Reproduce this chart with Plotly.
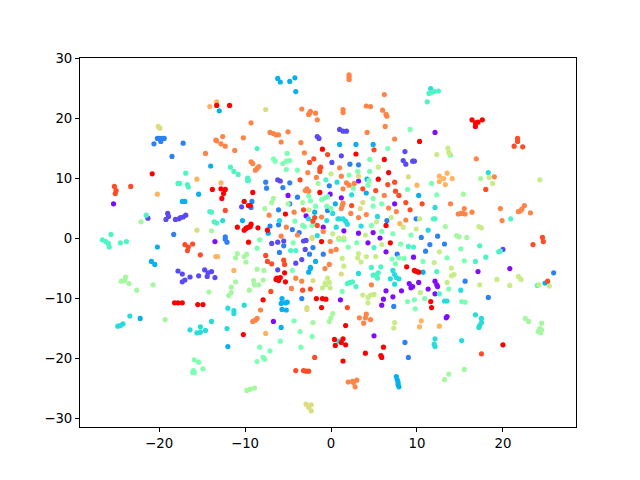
import plotly.graph_objects as go

red = [(-13.3,22.1),(-11.8,22.1),(-20.8,10.7),(-13.8,8.1),(-12.8,8.2),(-12.3,8.1),(-12.5,7.4),(-12.7,6.6),(-10.1,6.1),(-9.6,5.4),(-10.9,1.8),(-10.1,1.3),(-9.6,1.8),(-9.9,1.6),
 (-1.0,14.8),(2.9,14.0),(6.2,13.1),(6.7,10.9),(-1.3,7.6),(-9.1,7.6),(-9.4,5.4),(-5.3,4.0),(-9.8,1.7),(-9.4,1.9),(-9.3,2.3),(-8.5,1.7),(-7.4,1.3),(6.4,2.1),(5.5,9.8),
 (16.4,19.7),(16.8,19.2),(16.8,18.6),(17.1,19.3),(17.6,19.7),(10.3,16.1),
 (-18.2,-10.8),(-17.8,-10.8),(-17.3,-10.8),(-15.5,-11.1),(-14.9,-11.1),(-10.2,-16.1),(-9.6,-0.7),
 (-5.4,-5.8),(-6.3,-6.7),(-6.1,-7.1),(-5.9,-6.6),(-6.4,-6.9),(-5.3,-7.3),(-7.9,-10.3),(-1.7,-10.1),(-1.0,-10.1),(-0.6,-10.2),(-1.1,-11.6),(1.7,-14.6),(0.4,-16.9),(0.5,-17.9),(1.4,-16.8),(1.2,-17.4),(1.7,-17.8),(4.0,-19.2),(5.8,-19.6),(5.9,-19.9),(6.1,-18.2),(1.4,-20.5),(8.8,-4.8),(6.9,-0.8),(-1.1,-0.6),(9.7,-5.4),
 (9.8,-5.5),(10.0,-5.6),(10.2,-5.7),(11.6,-10.6),(11.7,-11.6),(20.0,-17.8)]
red_orange = [(-25.2,8.6),(-25.0,7.9),(-25.1,7.4),(-23.3,8.6),(-12.3,4.6),
 (-0.4,13.9),(-2.0,13.2),(-2.5,12.6),(5.0,14.7),(-3.6,9.7),(-1.3,11.6),(-1.2,11.8),(-1.3,11.1),(6.6,8.9),(7.4,9.3),(5.2,7.9),(3.7,8.2),(7.5,7.8),(7.9,7.1),(8.7,5.9),(9.2,4.7),(2.4,5.4),(-1.6,2.1),(-2.1,2.8),(-1.9,3.4),(-3.2,4.7),
 (21.7,16.6),(21.7,16.1),(21.3,15.3),(22.3,15.2),(18.0,8.1),(10.6,5.7),(24.6,0.1),(24.7,-0.6),(23.5,-1.1),
 (-17.0,-1.1),(-16.1,-1.0),(-16.6,-1.5),(-16.7,-2.1),(-15.2,-2.8),
 (-7.6,-2.9),(-7.4,-3.9),(-6.9,-4.3),(-5.5,-3.7),(-5.4,-4.4),(-7.0,-8.9),(-3.3,-8.7),(-2.4,-8.5),(1.9,-11.6),(-1.9,-19.9),(-4.1,-22.1),(-3.2,-22.1),(-2.6,-22.2),(-2.9,-22.2),
 (17.5,-19.3),(25.2,-7.2)]
orange = [(-12.6,16.9),(-13.4,16.3),(-13.3,16.2),(-12.8,15.7),(-12.3,15.3),(-10.2,16.7),(-11.2,14.6),(-14.6,14.1),(-9.3,19.2),(-9.3,12.7),(-9.1,12.4),
 (2.1,27.2),(2.1,26.8),(2.1,26.4),(6.2,23.9),(-3.4,21.5),(-2.4,21.1),(-2.6,20.6),(-2.5,20.8),(-1.8,20.8),(-1.6,19.7),(1.4,21.4),(1.4,20.9),(4.1,22.0),(4.6,21.9),(6.0,21.3),(6.4,20.6),(6.5,20.3),(6.3,18.6),(4.2,17.6),(7.4,16.5),
 (-7.1,17.6),(-6.7,17.4),(-6.4,17.2),(-6.1,17.2),(-5.0,17.7),(-5.8,16.0),(-3.5,15.9),(-3.1,14.2),(-8.4,11.9),(-8.8,11.3),(-8.6,11.6),
 (-2.7,10.9),(-1.7,10.1),(1.0,11.7),(1.2,10.3),(1.4,8.2),(1.8,9.2),(2.1,8.8),(2.7,9.1),(-2.8,8.2),(-3.0,7.9),(-2.6,7.8),(6.2,7.1),(1.4,5.8),(1.3,5.4),(1.2,4.9),(6.7,5.0),(7.6,4.4),(8.7,3.0),(-4.3,4.3),(-7.2,3.8),(2.3,4.1),(3.2,3.4),(4.1,3.9),(-1.1,3.5),(-5.2,1.8),(-0.9,1.1),(-5.8,0.3),(-3.9,0.5),
 (16.9,13.2),(19.0,10.2),(13.9,5.7),(15.5,4.9),(15.3,4.1),(14.8,4.0),(15.1,4.1),(15.6,4.0),(16.4,4.3),(19.7,4.9),(19.9,2.9),(22.5,5.4),(22.2,4.8),(21.8,4.4),(22.0,4.5),(23.2,4.2),
 (-8.2,-12.0),(-9.1,-13.9),(-8.8,-13.7),(-8.6,-13.4),(-4.1,-6.7),(-3.4,-7.2),(-4.6,-8.4),(-0.2,-4.4),(-0.7,-5.1),(0,-2.2),(0.6,-1.9),(-0.1,-0.6),(4.7,-7.8),(3.3,-13.3),(4.1,-12.7),(4.0,-13.3),(4.6,-13.6),(3.8,-14.2),(2.0,-24.0),(2.5,-23.9),(3.0,-23.7),(2.6,-24.1),(2.8,-24.8)]
tan = [(-14.1,21.9),(-13.3,22.7),(-15.6,9.8),(-20.2,7.3),(-12.8,9.2),(8.0,2.4),(12.6,10.3),(13.1,9.9),(13.5,10.8),(12.6,9.4),(13.3,8.9),(14.1,9.9),(10.0,8.8),
 (-13.4,-3.1),(-13.2,-3.1),(-11.3,-5.4),(-7.6,-15.9),(10.5,-13.8),(10.3,-14.8),(12.6,-14.7)]
yellow = [(-20.1,18.6),(-19.9,18.3),(-15.6,1.3),(-7.6,21.4),(9.0,10.2),(3.2,10.3),(3.7,5.9),(3.4,4.9),
 (-2.1,-7.1),(1.2,-6.0),(-2.8,-11.6),(-2.8,-11.9),(-2.9,-27.7),(-2.3,-27.8),(-2.6,-28.2),(-2.3,-28.8),(-2.2,-0.1)]
yellow_green = [(5.5,11.8),(0,10.7),(-2.6,4.7),(7.0,3.4),(5.3,2.7),(0.2,0.7),(-2.2,0.1),(0.9,0),(1.5,0),(4.0,0.5),(8.4,1.8),
 (13.6,15.0),(13.7,14.3),(13.8,14.0),(12.3,13.9),(24.3,9.7),(18.4,10.1),(18.8,9.1),(17.2,1.9),(17.5,1.7),(9.9,1.5),(10.3,3.2),
 (1.3,-3.4),(1.5,-4.7),(3.2,-2.6),(3.1,-3.3),(3.5,-4.0),(-0.4,-6.7),(-0.2,-7.4),(-0.7,-7.5),(-0.1,-8.3),(-1.0,-8.3),(-0.6,-7.8),(4.1,-3.1),(5.2,-3.1),(3.7,-9.5),(4.3,-9.9),(4.6,-9.5),(5.0,-9.4),(4.3,-10.8),(5.9,-1.1),(7.4,-14.1),(7.3,-15.0),
 (12.6,-2.3),(12.0,-4.1),(14.0,-5.0),(14.0,-6.3),(14.3,-6.1),(13.5,-7.4),(17.3,-7.8),(19.3,-6.9),(20.8,-7.9),(21.8,-6.4),(22.1,-6.9),(24.2,-7.8),(25.4,-8.0),(10.4,-9.1)]
light_green = [(-22.1,2.7),(-13.9,1.2),(-23.9,-6.5),(-24.4,-7.2),(-24.0,-7.1),(-23.5,-7.6),(-22.6,-8.7),(-20.7,-7.8),(-14.2,-9.0),(-11.1,-3.3),(-10.9,-2.6),(-10.1,-3.1),(-9.8,-2.7),(-9.9,-4.0),(-11.1,-7.3),(-11.6,-8.2),(-11.6,-9.1),(-11.9,-9.6),(-9.5,-8.7),(-19.3,-13.6),(-9.8,-25.4),(-9.4,-25.2),(-8.9,-25.0),
 (-9.0,-7.1),(-8.9,-7.8),(-8.4,-7.8),(-7.9,-7.0),(-8.6,-5.2),(-7.8,-5.4),(0.2,-12.6),(0,-13.3),(-0.2,-13.9),(-2.1,-14.1),(22.6,-13.4),(23.0,-13.9),(24.5,-14.2),(24.1,-15.6),(24.4,-15.8),(24.5,-15.3),(24.3,-15.1),(15.5,-21.9),(13.7,-22.7),(13.2,-23.6),
 (17.4,9.9),(15.4,7.3),(13.3,1.9),(14.6,0.4),(14.9,0.2),(15.8,0.1),(-1.5,9.1),(-6.7,6.6),(-6.9,5.9),(-7.7,4.9),(-5.0,5.7),(-3.3,5.9)]
mint = [(-5.1,14.1),(-6.7,13.2),(-6.5,12.8),(-5.6,12.4),(-5.2,12.8),(-4.8,12.9),(-5.2,11.4),(-3.9,11.3),(4.5,13.1),(6.6,14.9),(2.1,10.5),(3.1,11.1),(4.5,11.1),(-2.6,7.0),(-2.4,6.2),(-1.1,6.4),(-0.7,6.7),(-0.4,6.9),(-1.8,5.3),(-0.5,5.3),(0,4.9),(4.9,6.6),(4.9,5.3),(5.9,5.7),(4.4,9.6),(4.3,8.8),(2.6,8.3),(8.9,8.1),(-4.2,2.8),(-3.3,2.1),(-3.1,1.9),(-2.2,2.1),(4.7,2.1),(7.2,0.7),(5.9,1.1),(9.3,0.5),(9.2,18.1),
 (11.7,9.1),(12.3,7.2),(13.9,13.8),
 (-15.9,-20.3),(-15.4,-20.7),(-14.9,-21.8),(-16.0,-22.1),(-16.1,-22.4),(-15.9,-22.4),
 (-8.6,-1.7),(-8.3,-0.3),(-4.4,-0.8),(-4.5,-5.4),(3.0,-0.8),(2.0,-1.5),(1.5,-0.3),(0.9,-0.2),(1.3,-8.9),(-4.3,-13.8),(-3.6,-15.6),(-2.2,-16.4),(-3.5,-18.2),(-5.9,-17.2),(-8.3,-18.2),(-7.1,-18.8),(-7.9,-19.9),(-7.7,-20.2),(-8.6,-20.6),(8.1,-1.0),(7.1,-3.5),(7.5,-4.3),(7.9,-3.3),(8.5,-3.4),(8.9,-10.6),(9.7,-10.3),(9.8,-11.8),
 (15.1,-1.8),(15.5,-3.8),(13.5,-3.3),(10.7,-3.9),(13.7,-8.5),(10.9,-10.1),(15.2,-10.6),(15.6,-10.7)]
teal = [(-16.9,10.8),(-17.8,9.1),(-17.6,9.1),(-16.7,8.9),(-16.6,8.5),(-11.7,11.8),(-11.3,11.1),(-10.8,10.6),(-9.7,10.0),(-9.7,9.6),(-14.1,4.4),(-13.9,4.3),(-13.6,2.7),(-13.3,2.5),(-25.6,0.6),(-21.5,3.8),
 (-26.6,-0.3),(-26.2,-0.6),(-25.9,-0.9),(-25.8,-1.5),(-24.5,-0.8),(-23.8,-0.6),(-4.7,-2.1),(-4.1,-2.1),
 (1.9,-7.6),(2.2,-7.4),(2.5,-7.3),(2.9,-8.1),(4.7,-4.9),(5.8,-4.8),(4.9,-6.2),(5.4,-6.7),(5.5,-5.8),(5.3,-6.1),(5.0,-1.6),(9.0,-1.4),(9.6,-1.5),(17.3,-1.3),(18.0,-3.2),(16.8,-3.9),(19.5,-2.3),(19.7,-2.2),(12.3,-5.6),(12.6,-9.3),
 (-0.6,9.7),(-9.7,9.9),(-9.6,9.6),(20.9,3.2),(11.9,3.2),(12.1,3.2),(11.2,22.7),(12.5,24.5),(12.0,24.4),(11.7,24.3),(11.4,24.1),(-8.6,14.9),(24.0,-7.9)]
cyan = [(-12.6,2.9),(0.7,9.3),(2.4,7.2),(0.2,4.1),(0.8,3.2),(1.0,3.2),(1.4,3.2),(1.7,2.8),(1.9,2.3),(3.5,2.0),(5.4,3.6),(-0.5,2.9),(-2.6,3.2),(-1.6,0.4),(0.6,1.8),(-6.0,2.9),(11.6,24.9),(11.3,1.3),
 (3.2,-5.9),(7.2,-5.4),(6.9,-6.8),(7.4,-6.1),(7.6,-6.6),(7.9,-6.8),(7.4,-7.7),(15.1,-8.7),(13.2,-10.5),(13.5,-10.5),(16.8,-12.8),(17.5,-13.4),(17.5,-14.1),(17.3,-14.6),(17.2,-14.9),(12.1,-16.8),(12.0,-17.7),(12.1,-18.1),(15.2,-17.1),
 (-12.0,-11.7),(-11.3,-12.1),(-11.3,-12.6),(-10.1,-11.2),(-23.4,-13.0),(-24.8,-14.7),(-24.5,-14.6),(-24.2,-14.3),(-16.4,-15.3),(-15.2,-14.8),(-14.6,-15.4),(-15.6,-15.8),(-15.2,-15.7),(-13.9,-13.9),(-12.1,-15.1),(0.9,-17.2),(18.3,10.9),(12.1,5.1)]
sky = [(-13.0,21.2),(-14.0,12.0),(-15.4,7.3),(-17.3,6.1),(-17.0,6.1),(-10.3,2.9),(-6.2,26.6),(-5.9,26.0),(-4.8,26.1),(-4.2,26.7),(-4.1,24.4),(1.0,15.6),(2.9,15.6),(4.9,15.6),(4.2,9.8),(4.1,7.5),(0.5,5.7),(-1.9,4.3),(-7.3,0.8),(10.2,7.1),
 (-20.2,-1.5),(-20.9,-3.9),(-20.5,-4.4),(-22.2,-13.4),(-12.0,-18.1),(-5.7,-10.1),(-5.8,-10.9),(-5.3,-10.8),(-5.1,-10.7),(-5.7,-11.9),(-5.2,-12.0),(-5.8,-14.9),(-2.6,-5.7),(-2.4,-5.1),(-2.4,-4.9),(-1.8,-3.9),(7.6,-23.1),(7.7,-23.6),(7.8,-24.0),(7.8,-24.4),(7.9,-24.8),(10.7,-5.7),(24.9,-7.5)]
blue = [(-20.6,15.7),(-20.0,16.6),(-20.2,16.6),(-19.8,16.1),(-19.4,16.6),(-19.7,16.6),(-17.2,15.8),(-18.5,13.6),(-18.3,0.6),(-12.3,0.2),(-12.3,-0.2),(-12.1,-0.7),
 (2.2,12.3),(3.2,12.2),(-7.6,9.3),(-7.5,8.3),(-5.6,8.4),(-4.8,9.2),(-3.9,6.8),(-0.2,8.7),(-6.1,4.7),(-7.1,2.0),(-6.1,2.2),(-4.5,1.4),(-3.7,0.9),(-9.2,6.1),(-9.3,5.1),(-0.4,4.6),(6.5,2.9),(-4.8,5.7),(9.9,3.2),(10.5,0.1),(12.4,0.3),
 (-6.0,-2.4),(-5.5,-1.3),(-2.1,-1.6),(-2.5,-2.7),(-0.9,-2.7),(-3.4,-10.1),(7.7,-2.7),(8.6,-17.4),(9.0,-19.9),(7.3,-11.4),(11.5,-1.1),(13.2,-1.0),(11.0,-2.2),(15.6,-7.2),(18.3,-9.9),(25.9,-5.8)]
indigo = [(-10.4,5.2),(-19.0,4.1),(-18.9,3.6),(-19.2,3.1),(-21.3,3.3),(-18.1,3.1),(-17.7,3.2),(-17.5,3.4),(-17.2,3.5),(-16.9,3.8),(1.0,18.1),(1.4,17.8),(1.8,17.8),(-1.6,16.9),(-1.4,16.6),(8.4,12.9),(8.7,12.3),(9.5,12.8),(9.7,12.8),(8.6,14.4),(1.2,13.7),(0.1,12.6),(-6.2,9.7),(-5.9,9.5),
 (-17.8,-5.5),(-17.3,-6.0),(-17.3,-7.3),(-17.0,-7.0),(-16.4,-6.5),(-15.4,-6.3),(-14.7,-5.3),(-13.9,-5.6),(-14.3,-5.8),(-14.4,-6.4),(-13.5,-6.6),
 (-6.9,-0.9),(-6.2,-0.7),(-5.5,-0.5),(-3.2,-0.5),(-2.9,-0.4),(-3.0,-1.9),(-3.4,-3.6),(-4.1,-4.2),(-6.2,-5.3),(20.0,-1.9)]
purple = [(-25.3,5.7),(-5.0,7.1),(-0.1,7.3),(1.2,6.7),(3.2,9.5),(7.4,5.7),(-0.9,1.8),(1.5,1.2),(3.2,0.8),(4.9,0.9),(5.7,0),(-2.9,3.7),(12.1,17.6),(-13.5,-0.6),
 (-6.7,-13.9),(1.1,-10.3),(5.0,-16.3),(4.3,-0.8),(6.4,-2.3),(6.4,-8.8),(6.1,-10.2),(5.9,-11.2),(7.2,-9.8),(8.2,-8.8),(9.1,-7.6),(9.3,-8.3),(9.5,-8.1),(9.6,-3.2),
 (17.1,-5.6),(20.8,-5.1),(12.1,-7.2),(12.3,-7.8),(12.4,-8.1),(10.2,-7.4),(11.3,-8.5),(12.1,-9.3),(13.5,-13.1),(13.4,-13.3)]

classes = [(purple,"#7f0cff"),(indigo,"#5a4af5"),(blue,"#2c82f5"),(sky,"#08b0ee"),(cyan,"#26dcdc"),(teal,"#4ef5c4"),
           (mint,"#7dffb4"),(light_green,"#a6f8a0"),(yellow_green,"#c8ec88"),(yellow,"#dcdc80"),(tan,"#ffb460"),
           (orange,"#ff8447"),(red_orange,"#ff4c27"),(red,"#ff0000")]

fig = go.Figure()
for pts, col in classes:
    fig.add_trace(go.Scatter(x=[p[0] for p in pts], y=[p[1] for p in pts], mode="markers",
                             marker=dict(color=col, size=5.2, line=dict(width=0)), showlegend=False, hoverinfo="skip"))

axis = dict(showgrid=False, zeroline=False, showline=True, mirror=True, linecolor="black", linewidth=1,
            ticks="outside", ticklen=4, tickwidth=1, tickcolor="black", dtick=10)
fig.update_layout(width=640, height=480, autosize=False,
                  margin=dict(l=72, r=72, t=50, b=61, pad=0),
                  paper_bgcolor="white", plot_bgcolor="white",
                  font=dict(family="DejaVu Sans", size=13.3, color="black"),
                  xaxis=dict(range=[-29.2, 28.5], tick0=0, **axis),
                  yaxis=dict(range=[-31.5, 30], tick0=0, **axis))
fig.write_html("out.html")
